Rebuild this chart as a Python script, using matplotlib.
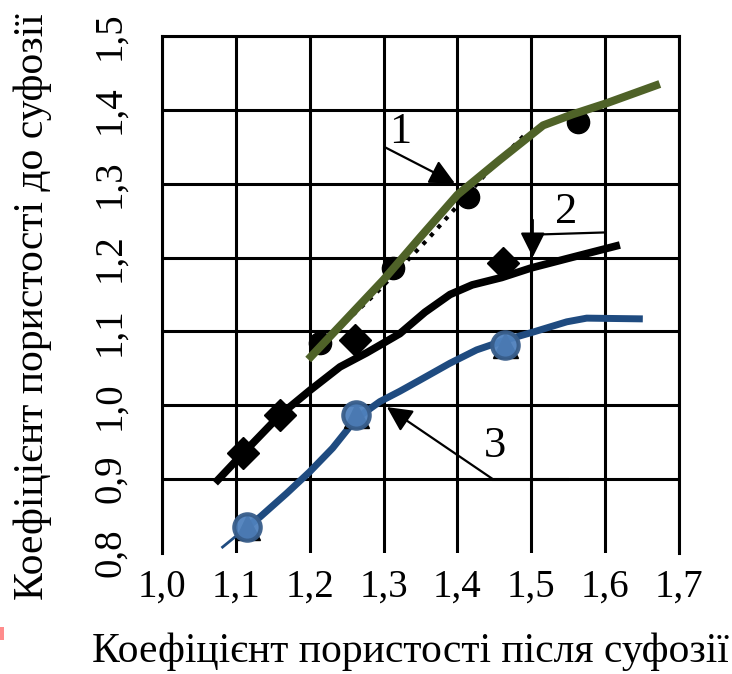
import matplotlib
matplotlib.use("Agg")
import matplotlib.pyplot as plt
from matplotlib.patches import Rectangle

plt.rcParams['font.family'] = ['Liberation Serif', 'DejaVu Serif']

# Axis ticks
x_ticks = [1.0, 1.1, 1.2, 1.3, 1.4, 1.5, 1.6, 1.7]
y_ticks = [0.8, 0.9, 1.0, 1.1, 1.2, 1.3, 1.4, 1.5]
x_tick_labels = ['1,0', '1,1', '1,2', '1,3', '1,4', '1,5', '1,6', '1,7']
y_tick_labels = ['0,8', '0,9', '1,0', '1,1', '1,2', '1,3', '1,4', '1,5']

# Curve 1 (smoothed line, dotted trend and measured points)
curve1_x = [1.198, 1.25, 1.30, 1.35, 1.40, 1.457, 1.516, 1.556, 1.602, 1.674]
curve1_y = [1.062, 1.117, 1.170, 1.228, 1.285, 1.332, 1.379, 1.394, 1.409, 1.435]
trend1_x = [1.212, 1.24, 1.29, 1.36, 1.44, 1.49]
trend1_y = [1.085, 1.105, 1.152, 1.225, 1.315, 1.365]
points1_x = [1.214, 1.313, 1.414, 1.563]
points1_y = [1.084, 1.186, 1.282, 1.383]

# Curve 2
curve2_x = [1.072, 1.105, 1.16, 1.20, 1.241, 1.277, 1.322, 1.356, 1.39, 1.42, 1.46, 1.50, 1.55, 1.62]
curve2_y = [0.895, 0.930, 0.987, 1.020, 1.052, 1.071, 1.097, 1.126, 1.150, 1.163, 1.173, 1.186, 1.199, 1.217]
points2_x = [1.11, 1.16, 1.261, 1.462]
points2_y = [0.935, 0.987, 1.088, 1.192]

# Curve 3
curve3_x = [1.115, 1.133, 1.169, 1.2, 1.231, 1.263, 1.295, 1.322, 1.349, 1.39, 1.426,
            1.464, 1.502, 1.548, 1.575, 1.651]
curve3_y = [0.835, 0.849, 0.881, 0.91, 0.942, 0.982, 1.005, 1.019, 1.034, 1.057, 1.075,
            1.088, 1.099, 1.113, 1.118, 1.117]
tail3_x = [1.082, 1.115]
tail3_y = [0.808, 0.835]
points3_x = [1.115, 1.263, 1.464]
points3_y = [0.835, 0.987, 1.081]

green = '#4F6228'
blue_line = '#1F4B80'
blue_fill = '#4F81BD'
blue_edge = '#385D8A'

fig = plt.figure(figsize=(7.32, 6.74), dpi=100)
ax = fig.add_axes([0.2213, 0.1795, 0.7063, 0.7671])

ax.set_xlim(x_ticks[0], x_ticks[-1])
ax.set_ylim(y_ticks[0], y_ticks[-1])
ax.set_xticks(x_ticks)
ax.set_yticks(y_ticks)
ax.set_xticklabels(x_tick_labels, fontsize=28)
ax.set_yticklabels(y_tick_labels, fontsize=28, rotation=90, va='center')
ax.tick_params(axis='both', length=0)
ax.tick_params(axis='x', pad=11)
ax.tick_params(axis='y', pad=24)

ax.set_axisbelow(True)
ax.grid(True, color='black', linewidth=2.2)
ax.yaxis.get_major_ticks()[0].gridline.set_visible(False)
for side in ('top', 'left', 'right'):
    ax.spines[side].set_linewidth(2.2)
    ax.spines[side].set_color('black')
ax.spines['bottom'].set_visible(False)

line_kw = dict(solid_capstyle='butt', solid_joinstyle='round')

# Curve 2
ax.plot(curve2_x, curve2_y, color='black', lw=5.5, zorder=3, **line_kw)
ax.plot(points2_x, points2_y, linestyle='none', marker='D', markersize=16,
        color='black', zorder=4)

# Curve 1
ax.plot(points1_x, points1_y, linestyle='none', marker='o', markersize=16,
        color='black', zorder=3)
ax.plot(trend1_x, trend1_y, color='black', lw=3, linestyle=':', zorder=3)
ax.plot(curve1_x, curve1_y, color=green, lw=5.8, zorder=5, **line_kw)

# Curve 3
ax.plot(tail3_x, tail3_y, color=blue_line, lw=2, zorder=3)
ax.plot(curve3_x, curve3_y, color=blue_line, lw=5, zorder=4, **line_kw)
ax.plot(points3_x, points3_y, linestyle='none', marker='^', markersize=18,
        color='black', zorder=4)
ax.plot(points3_x, points3_y, linestyle='none', marker='o', markersize=19,
        markerfacecolor=blue_fill, markeredgecolor=blue_edge, markeredgewidth=3,
        alpha=0.95, zorder=5)

# Curve labels with leaders
arrow_kw = dict(arrowstyle='-|>', color='black', lw=1.6, mutation_scale=38,
                shrinkA=0, shrinkB=0)
ax.text(1.322, 1.370, '1', fontsize=32, ha='center', va='center', zorder=6)
ax.annotate('', xy=(1.3965, 1.3007), xytext=(1.3018, 1.3494),
            arrowprops=arrow_kw, zorder=6)

ax.text(1.547, 1.262, '2', fontsize=32, ha='center', va='center', zorder=6)
ax.plot([1.599, 1.502], [1.234, 1.231], color='black', lw=1.6, zorder=6)
ax.annotate('', xy=(1.502, 1.2005), xytext=(1.502, 1.251),
            arrowprops=arrow_kw, zorder=6)

ax.text(1.451, 0.945, '3', fontsize=32, ha='center', va='center', zorder=6)
ax.plot([1.549, 1.448], [0.9, 0.9], color='black', lw=2.2, zorder=6)
ax.annotate('', xy=(1.3045, 0.9976), xytext=(1.448, 0.9),
            arrowprops=arrow_kw, zorder=6)

# Axis titles
ax.set_xlabel('Коефіцієнт пористості після суфозії', fontsize=30)
ax.xaxis.set_label_coords(0.48, -0.19)
ax.xaxis.label.set_va('center')
ax.set_ylabel('Коефіцієнт пористості до суфозії', fontsize=30)
ax.yaxis.set_label_coords(-0.25, 0.476)
ax.yaxis.label.set_va('center')

fig.add_artist(Rectangle((0, 1 - 640 / 674), 4 / 732, 13 / 674,
                         transform=fig.transFigure, color='#FF8C8C', lw=0))

fig.savefig('out.png', dpi=100)
